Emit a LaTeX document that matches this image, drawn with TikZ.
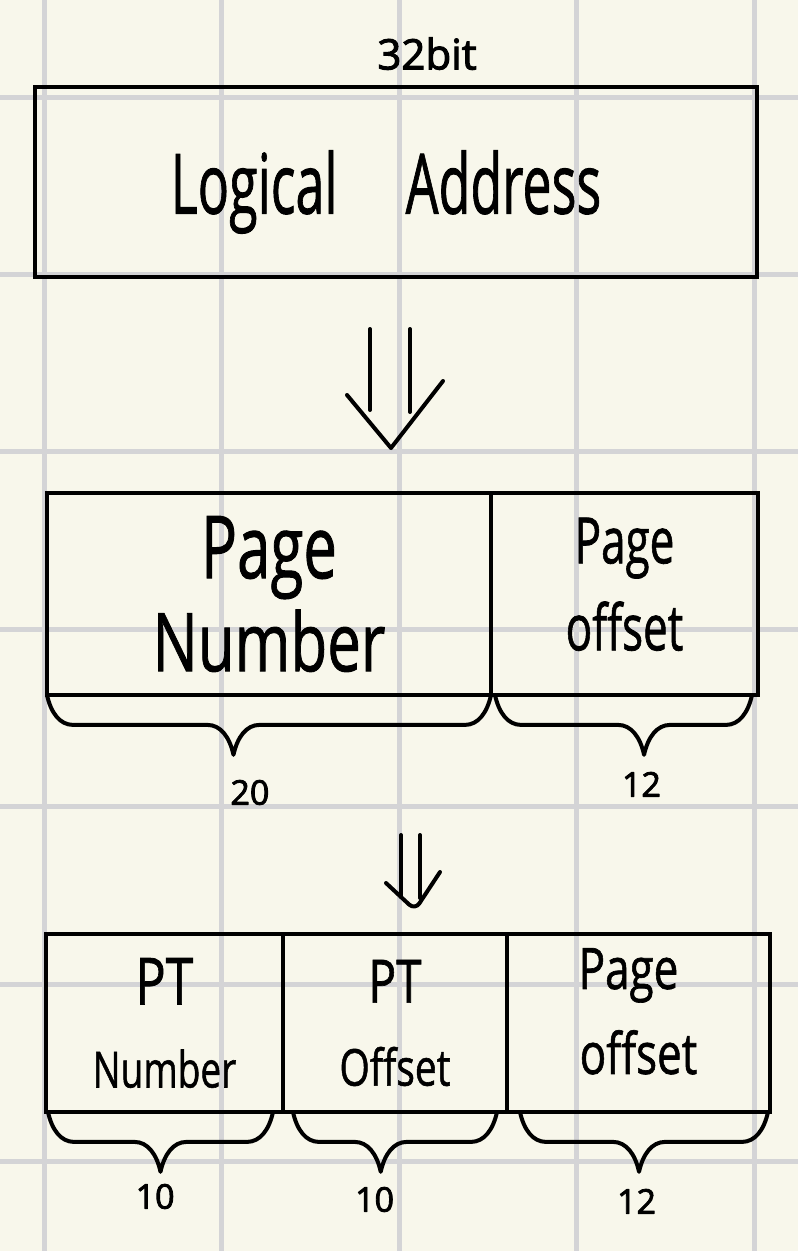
\documentclass[tikz,border=0pt]{standalone}
\usepackage{fontspec}
\setmainfont{Open Sans}[FakeBold=1.2]
\newfontfamily\numhand{Open Sans}[FakeBold=2.5]
\usepackage{graphicx}
\usetikzlibrary{positioning,decorations.pathreplacing}
\definecolor{paper}{HTML}{F8F7EB}
\definecolor{gridgray}{HTML}{D4D4D6}
\newcommand{\tall}[2][1.35]{\scalebox{1}[#1]{#2}}

\begin{document}
\begin{tikzpicture}[
  x=1pt, y=-1pt,
  gridline/.style={draw=gridgray, line width=5pt},
  cell/.style={draw, line width=4pt, inner sep=0pt, outer sep=0pt, align=center},
  pen/.style={line width=4pt, line cap=round, line join=round},
  bracebar/.style={pen, decorate, decoration={brace, mirror, amplitude=26pt, transform={yscale=2.3}}},
  numlbl/.style={inner sep=0pt, font=\numhand\fontsize{34}{34}\selectfont}
]

  % paper and grid
  \path[fill=paper, use as bounding box] (0,0) rectangle (798,1251);
  \foreach \gx in {0,...,4}
    \draw[gridline] ({44+177.5*\gx},0) -- ++(0,1251);
  \foreach \gy in {0,...,6}
    \draw[gridline] (0,{97+177.4*\gy}) -- ++(798,0);

  % logical address
  \node[cell, minimum width=722pt, minimum height=190pt, text depth=0pt,
        font=\fontsize{52}{52}\selectfont] (laddr) at (396,182)
    {\tall[1.6]{Logical}\hspace{68pt}\tall[1.6]{Address}\hspace{20pt}};
  \node[numlbl, font=\numhand\fontsize{42}{42}\selectfont, above=17pt of laddr, xshift=31pt] (bits) {32bit};

  % page number / page offset
  \node[cell, minimum width=444pt, minimum height=202pt, font=\fontsize{60}{93}\selectfont]
    (pnum) at (269,594) {\tall[1.45]{Page}\\\tall{Number}};
  \node[cell, minimum width=267pt, minimum height=202pt, font=\fontsize{44}{87}\selectfont,
        right=0pt of pnum] (poff) {\tall[1.45]{Page}\\\tall[1.45]{offset}\\[-67pt]\mbox{}};

  \draw[bracebar, decoration={aspect=.42}] (pnum.south west) -- (pnum.south east)
    node[numlbl, pos=.457, below=83pt] (w20) {20};
  \draw[bracebar, decoration={aspect=.58}] ([xshift=4pt]poff.south west) -- ([xshift=-6pt]poff.south east)
    node[numlbl, pos=.57, below=75pt] (w12) {12};

  % two level split
  \node[cell, minimum width=237pt, minimum height=178pt, font=\fontsize{44}{83}\selectfont]
    (ptnum) at (164.5,1023) {{\fontsize{50}{50}\selectfont\tall[1.3]{PT}}\\{\fontsize{37}{37}\selectfont\tall{Number}}};
  \node[cell, minimum width=224pt, minimum height=178pt, font=\fontsize{44}{83}\selectfont,
        right=0pt of ptnum] (ptoff) {{\fontsize{46}{46}\selectfont\tall[1.3]{PT}}\\{\fontsize{39}{39}\selectfont\tall[1.3]{Offset}}};
  \node[cell, minimum width=263pt, minimum height=178pt, font=\fontsize{44}{85}\selectfont,
        right=0pt of ptoff] (pgoff) {\tall[1.3]{Page}\hspace*{20pt}\\\tall[1.3]{offset}\hspace*{20pt}\\[-61pt]\mbox{}};

  \draw[bracebar, decoration={aspect=.5}] ([xshift=2pt]ptnum.south west) -- ([xshift=-10pt]ptnum.south east)
    node[numlbl, pos=.476, below=70pt] (w10a) {10};
  \draw[bracebar, decoration={aspect=.43}] ([xshift=10pt]ptoff.south west) -- ([xshift=-10pt]ptoff.south east)
    node[numlbl, pos=.40, below=73pt] (w10b) {10};
  \draw[bracebar, decoration={aspect=.48}] ([xshift=13pt]pgoff.south west) -- ([xshift=-2pt]pgoff.south east)
    node[numlbl, pos=.47, below=75pt] (w12b) {12};

  % arrows
  \coordinate (tip1) at (391,448);
  \draw[pen] (tip1) ++(-21,-119) -- ++(0,81);
  \draw[pen] (tip1) ++(19,-119) -- ++(0,83);
  \draw[pen] (tip1) ++(-44,-53) -- (tip1) -- ++(52,-67);

  \coordinate (tip2) at (415,910);
  \draw[pen] (tip2) ++(-14,-75) -- ++(0,62);
  \draw[pen] (tip2) ++(5,-75) -- ++(0,63);
  \draw[pen, rounded corners=8pt] (tip2) ++(-29,-27) -- (tip2) -- ++(25,-38);

\end{tikzpicture}
\end{document}
